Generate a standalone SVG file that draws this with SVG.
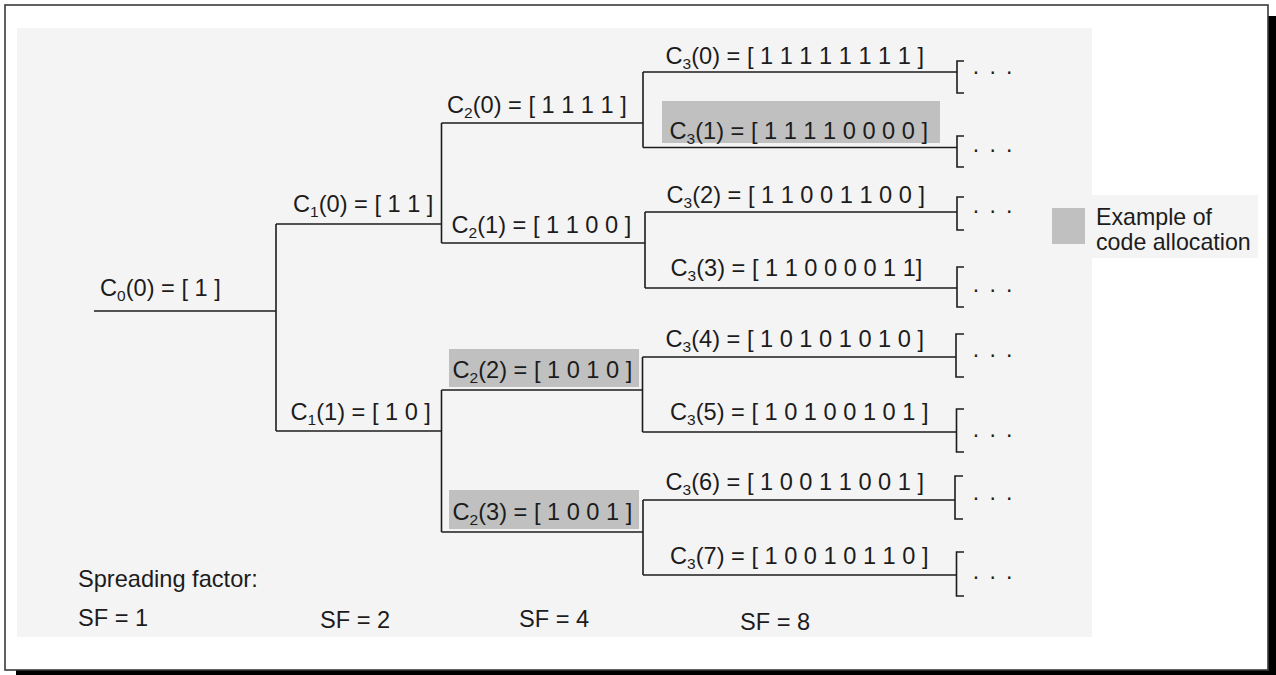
<svg xmlns="http://www.w3.org/2000/svg" width="1276" height="675" viewBox="0 0 1276 675">
<style>
  text { font-family: "Liberation Sans", Arial, sans-serif; font-size: 23.6px; fill: #1c1c1c; }
  .sub { font-size: 15.5px; }
  .hl { fill: #c0c0c0; }
  .wire { fill: none; stroke: #1c1c1c; stroke-width: 1.6; }
  .dots { font-size: 23px; letter-spacing: 1.9px; }
  .legend { font-size: 23.2px; }
</style>
<rect x="0" y="0" width="1276" height="675" fill="#ffffff"/>
<!-- shadow -->
<rect x="1268" y="16" width="8" height="659" fill="#000000"/>
<rect x="16" y="670" width="1260" height="5" fill="#000000"/>
<!-- frame -->
<rect x="5" y="5" width="1263" height="665" fill="#ffffff" stroke="#3a3a3a" stroke-width="1.6"/>
<!-- backgrounds -->
<rect x="17" y="28" width="1075" height="609" fill="#f4f4f4"/>
<rect x="1092" y="195" width="166" height="63" fill="#f4f4f4"/>

<g id="connectors" class="wire">
  <path d="M94 311 H276"/>
  <path d="M276 224 V431"/>
  <path d="M276 224 H441.5"/>
  <path d="M276 431 H441.5"/>
  <path d="M441.5 123 V243"/>
  <path d="M441.5 123 H643"/>
  <path d="M441.5 243 H645"/>
  <path d="M643 72 V147.5"/>
  <path d="M643 72 H957"/>
  <path d="M643 147.5 H957"/>
  <path d="M645 212 V288"/>
  <path d="M645 212 H957"/>
  <path d="M645 288 H957"/>
  <path d="M441.5 390 V532"/>
  <path d="M441.5 390 H642.5"/>
  <path d="M441.5 532 H643"/>
  <path d="M642.5 357 V432"/>
  <path d="M642.5 357 H956"/>
  <path d="M642.5 432 H956"/>
  <path d="M643 500 V575"/>
  <path d="M643 500 H955"/>
  <path d="M643 575 H956"/>
</g>

<g id="continuations">
  <g class="wire">
    <path d="M964 61 H957 V93 H964"/>
    <path d="M964 136 H957 V167 H964"/>
    <path d="M964 197 H957 V230 H964"/>
    <path d="M964 267 H957 V307 H964"/>
    <path d="M964 334 H956 V377 H964"/>
    <path d="M964 409 H956.5 V452 H964"/>
    <path d="M963 476 H955 V519 H963"/>
    <path d="M964 552 H956.5 V596 H964"/>
  </g>
  <text class="dots" x="972.8" y="73.5">. . .</text>
  <text class="dots" x="972.8" y="151.5">. . .</text>
  <text class="dots" x="972.8" y="212.5">. . .</text>
  <text class="dots" x="972.8" y="291.5">. . .</text>
  <text class="dots" x="972.8" y="356.5">. . .</text>
  <text class="dots" x="972.8" y="436.5">. . .</text>
  <text class="dots" x="972.8" y="499.5">. . .</text>
  <text class="dots" x="972.8" y="578.5">. . .</text>
</g>

<g id="node-c0-0"><text x="100" y="296">C<tspan class="sub" dy="5">0</tspan><tspan dy="-5">(0) = [ 1 ]</tspan></text></g>
<g id="node-c1-0"><text x="293" y="212">C<tspan class="sub" dy="5">1</tspan><tspan dy="-5">(0) = [ 1 1 ]</tspan></text></g>
<g id="node-c1-1"><text x="290.5" y="420">C<tspan class="sub" dy="5">1</tspan><tspan dy="-5">(1) = [ 1 0 ]</tspan></text></g>
<g id="node-c2-0"><text x="447" y="113">C<tspan class="sub" dy="5">2</tspan><tspan dy="-5">(0) = [ 1 1 1 1 ]</tspan></text></g>
<g id="node-c2-1"><text x="451.5" y="233">C<tspan class="sub" dy="5">2</tspan><tspan dy="-5">(1) = [ 1 1 0 0 ]</tspan></text></g>
<g id="node-c2-2"><rect class="hl" x="449" y="349" width="190" height="38"/><text x="452.5" y="378">C<tspan class="sub" dy="5">2</tspan><tspan dy="-5">(2) = [ 1 0 1 0 ]</tspan></text></g>
<g id="node-c2-3"><rect class="hl" x="449" y="490" width="190" height="39"/><text x="452.5" y="520">C<tspan class="sub" dy="5">2</tspan><tspan dy="-5">(3) = [ 1 0 0 1 ]</tspan></text></g>
<g id="node-c3-0"><text x="665.5" y="64">C<tspan class="sub" dy="5">3</tspan><tspan dy="-5">(0) = [ 1 1 1 1 1 1 1 1 ]</tspan></text></g>
<g id="node-c3-1"><rect class="hl" x="662" y="101" width="278" height="42"/><text x="669.5" y="139">C<tspan class="sub" dy="5">3</tspan><tspan dy="-5">(1) = [ 1 1 1 1 0 0 0 0 ]</tspan></text></g>
<g id="node-c3-2"><text x="666.5" y="203">C<tspan class="sub" dy="5">3</tspan><tspan dy="-5">(2) = [ 1 1 0 0 1 1 0 0 ]</tspan></text></g>
<g id="node-c3-3"><text x="670.5" y="276">C<tspan class="sub" dy="5">3</tspan><tspan dy="-5">(3) = [ 1 1 0 0 0 0 1 1]</tspan></text></g>
<g id="node-c3-4"><text x="665.5" y="347">C<tspan class="sub" dy="5">3</tspan><tspan dy="-5">(4) = [ 1 0 1 0 1 0 1 0 ]</tspan></text></g>
<g id="node-c3-5"><text x="670" y="420">C<tspan class="sub" dy="5">3</tspan><tspan dy="-5">(5) = [ 1 0 1 0 0 1 0 1 ]</tspan></text></g>
<g id="node-c3-6"><text x="665.5" y="490">C<tspan class="sub" dy="5">3</tspan><tspan dy="-5">(6) = [ 1 0 0 1 1 0 0 1 ]</tspan></text></g>
<g id="node-c3-7"><text x="670" y="564">C<tspan class="sub" dy="5">3</tspan><tspan dy="-5">(7) = [ 1 0 0 1 0 1 1 0 ]</tspan></text></g>

<g id="legend">
  <rect class="hl" x="1052" y="208" width="33" height="36"/>
  <text class="legend" x="1096" y="225">Example of</text>
  <text class="legend" x="1096" y="250">code allocation</text>
</g>

<g id="sf-labels">
  <text x="78" y="587">Spreading factor:</text>
  <text x="78" y="626">SF = 1</text>
  <text x="320" y="628">SF = 2</text>
  <text x="519" y="627">SF = 4</text>
  <text x="740" y="630">SF = 8</text>
</g>
</svg>
